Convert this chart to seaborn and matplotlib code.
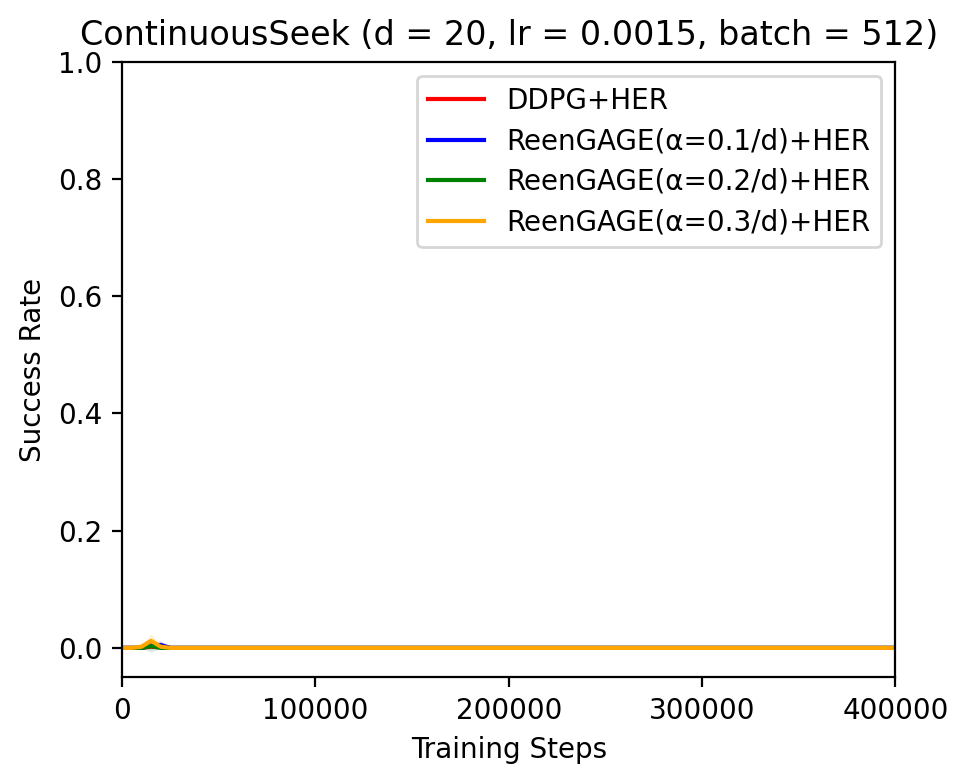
import numpy as np
import pandas as pd
import seaborn as sns
import matplotlib
matplotlib.use('Agg')
import matplotlib.pyplot as plt

# training steps (evaluation points)
steps = [0, 5000, 10000, 15000, 20000, 25000, 30000, 50000, 100000,
         150000, 200000, 250000, 300000, 350000, 400000]

labels = ['DDPG+HER', 'ReenGAGE(α=0.1/d)+HER',
          'ReenGAGE(α=0.2/d)+HER', 'ReenGAGE(α=0.3/d)+HER']
colors = ['red', 'blue', 'green', 'orange']

# mean success rate per method
ddpg_mean = [0.0, 0.0, 0.0, 0.002, 0.001, 0.0, 0.0, 0.0, 0.0, 0.0, 0.0, 0.0, 0.0, 0.0, 0.0]
reen1_mean = [0.0, 0.0, 0.0, 0.004, 0.005, 0.0, 0.0, 0.0, 0.0, 0.0, 0.0, 0.0, 0.0, 0.0, 0.0]
reen2_mean = [0.0, 0.0, 0.0, 0.003, 0.0, 0.0, 0.0, 0.0, 0.0, 0.0, 0.0, 0.0, 0.0, 0.0, 0.0]
reen3_mean = [0.0, 0.0, 0.002, 0.012, 0.002, 0.0, 0.0, 0.0, 0.0, 0.0, 0.0, 0.0, 0.0, 0.0, 0.0]

# std band half-width
ddpg_std = [0.0, 0.0, 0.0, 0.003, 0.002, 0.0, 0.0, 0.0, 0.0, 0.0, 0.0, 0.0, 0.0, 0.0, 0.0]
reen1_std = [0.0, 0.0, 0.0, 0.006, 0.007, 0.0, 0.0, 0.0, 0.0, 0.0, 0.0, 0.0, 0.0, 0.0, 0.0]
reen2_std = [0.0, 0.0, 0.0, 0.010, 0.0, 0.0, 0.0, 0.0, 0.0, 0.0, 0.0, 0.0, 0.0, 0.0, 0.0]
reen3_std = [0.0, 0.0, 0.004, 0.012, 0.003, 0.0, 0.0, 0.0, 0.0, 0.0, 0.0, 0.0, 0.0, 0.0, 0.0]

means = [ddpg_mean, reen1_mean, reen2_mean, reen3_mean]
stds = [ddpg_std, reen1_std, reen2_std, reen3_std]

# plain matplotlib look: black text, ticks and frame
plt.rcParams['font.family'] = ['DejaVu Sans']

fig = plt.figure(figsize=(4.845, 3.91), dpi=200)
ax = fig.add_axes([0.126, 0.134, 0.798, 0.787])

for lab, col, m, s in zip(labels, colors, means, stds):
    df = pd.DataFrame({'step': steps, 'rate': m})
    sns.lineplot(data=df, x='step', y='rate', color=col, label=lab, ax=ax, linewidth=1.5)
    lo = np.array(m) - np.array(s)
    hi = np.array(m) + np.array(s)
    ax.fill_between(steps, lo, hi, color=col, alpha=0.15, linewidth=0)

ax.set_xlim(0, 400000)
ax.set_ylim(-0.05, 1.0)
ax.set_xticks([0, 100000, 200000, 300000, 400000])
ax.set_xlabel('Training Steps')
ax.set_ylabel('Success Rate')
ax.set_title('ContinuousSeek (d = 20, lr = 0.0015, batch = 512)')
ax.legend(loc='upper right', labelspacing=0.45, borderaxespad=0.5)

fig.savefig('out.png', dpi=200)
